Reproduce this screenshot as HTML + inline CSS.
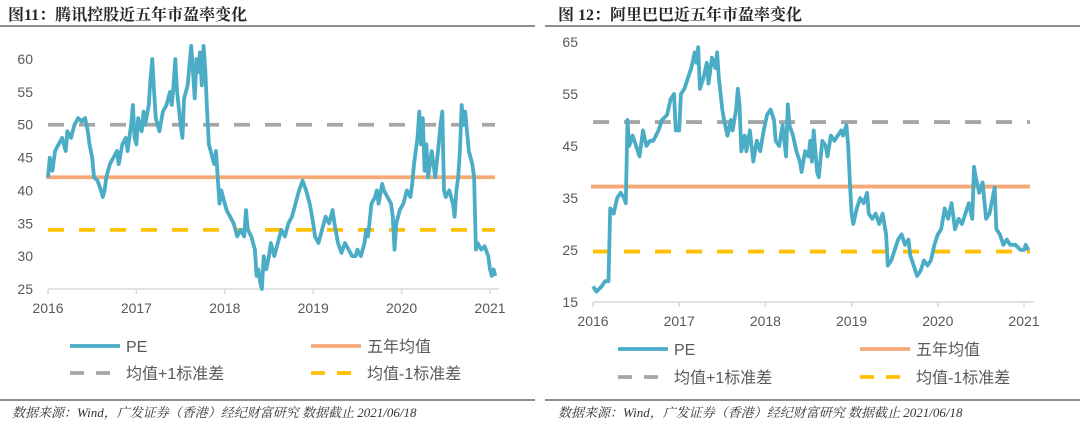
<!DOCTYPE html>
<html><head><meta charset="utf-8">
<style>
body{margin:0;width:1080px;height:425px;background:#fff;overflow:hidden;font-family:"Liberation Sans","Noto Sans CJK SC",sans-serif;}
svg{position:absolute;left:0;top:0}
</style></head>
<body>
<svg id="c" width="1080" height="425"></svg>
<script>
const yearTicks=[2016,2017,2018,2019,2020,2021];
const leftYTicks=[25,30,35,40,45,50,55,60];
const rightYTicks=[15,25,35,45,55,65];
const leftRefs=[42,50,34];
const rightRefs=[37.2,49.6,24.7];
const leftT=[2016.00,2016.02,2016.05,2016.08,2016.12,2016.16,2016.2,2016.22,2016.26,2016.3,2016.34,2016.38,2016.42,2016.45,2016.47,2016.5,2016.52,2016.56,2016.6,2016.62,2016.64,2016.66,2016.7,2016.74,2016.78,2016.8,2016.84,2016.88,2016.9,2016.94,2016.96,2016.98,2017.0,2017.02,2017.06,2017.08,2017.1,2017.14,2017.16,2017.18,2017.2,2017.22,2017.26,2017.3,2017.34,2017.38,2017.4,2017.42,2017.44,2017.46,2017.5,2017.52,2017.54,2017.58,2017.6,2017.62,2017.64,2017.66,2017.68,2017.7,2017.72,2017.74,2017.76,2017.78,2017.8,2017.82,2017.86,2017.88,2017.9,2017.92,2017.94,2017.96,2017.98,2018.02,2018.06,2018.1,2018.14,2018.18,2018.22,2018.24,2018.26,2018.3,2018.34,2018.36,2018.38,2018.4,2018.42,2018.44,2018.47,2018.5,2018.52,2018.56,2018.6,2018.64,2018.68,2018.72,2018.76,2018.8,2018.84,2018.88,2018.92,2018.96,2019.0,2019.02,2019.06,2019.1,2019.14,2019.18,2019.22,2019.24,2019.28,2019.32,2019.36,2019.4,2019.44,2019.48,2019.5,2019.54,2019.58,2019.6,2019.62,2019.66,2019.7,2019.72,2019.74,2019.78,2019.8,2019.84,2019.88,2019.9,2019.92,2019.94,2019.98,2020.02,2020.06,2020.1,2020.12,2020.14,2020.18,2020.2,2020.22,2020.24,2020.26,2020.28,2020.3,2020.34,2020.38,2020.42,2020.44,2020.46,2020.48,2020.5,2020.54,2020.58,2020.6,2020.62,2020.64,2020.66,2020.68,2020.7,2020.72,2020.74,2020.76,2020.8,2020.82,2020.84,2020.86,2020.9,2020.94,2020.98,2021.0,2021.02,2021.04,2021.06];
const leftPE=[42,45,43,46,47,48,46,49,48,50,51,50.5,51,49,47,45,42,41.5,40,39,40,42,44,45,46,44,47,48,46,50,53,48,47,51,49,52,50,53,57,60,55,51,49,52,53,55,53,56,60,55,50,48,54,56,59,62,58,54,60,58,61,56,62,58,52,47,45,44,46,42,38,40,39,37,36,35,33,34,33,37,34,33,31,27,28,26,25,30,28,30,32,30,32,34,33,35,36,38,40,41.5,40,38,35,33,32,34,36,35,37,35,32,30.5,32,31,30,30,31,30,32,34,33,38,39,40,38,41,40,39,38,36,31,35,37,38,40,39,41,44,48,52,47,51,43,47,42,46,42,47,50,52,40,39,40,38,36,40,42,46,53,50,52,49,46,44,42,31,32,31,31.5,30,28,27,28,27];
const rightT=[2016.0,2016.04,2016.1,2016.14,2016.18,2016.2,2016.24,2016.28,2016.32,2016.36,2016.38,2016.4,2016.42,2016.46,2016.5,2016.54,2016.58,2016.62,2016.66,2016.7,2016.76,2016.8,2016.86,2016.9,2016.94,2016.96,2017.0,2017.02,2017.06,2017.1,2017.14,2017.18,2017.2,2017.22,2017.24,2017.28,2017.32,2017.34,2017.38,2017.42,2017.44,2017.46,2017.5,2017.52,2017.56,2017.6,2017.62,2017.66,2017.68,2017.7,2017.72,2017.76,2017.78,2017.82,2017.86,2017.9,2017.94,2017.98,2018.02,2018.06,2018.1,2018.12,2018.16,2018.2,2018.24,2018.26,2018.28,2018.32,2018.36,2018.4,2018.42,2018.46,2018.5,2018.52,2018.54,2018.56,2018.6,2018.62,2018.66,2018.7,2018.72,2018.76,2018.8,2018.84,2018.88,2018.9,2018.94,2018.96,2018.98,2019.0,2019.02,2019.06,2019.1,2019.14,2019.18,2019.2,2019.24,2019.28,2019.32,2019.36,2019.4,2019.42,2019.46,2019.5,2019.54,2019.58,2019.62,2019.66,2019.68,2019.72,2019.76,2019.8,2019.84,2019.88,2019.92,2019.96,2020.0,2020.04,2020.08,2020.12,2020.16,2020.2,2020.24,2020.28,2020.32,2020.36,2020.4,2020.42,2020.44,2020.48,2020.52,2020.56,2020.6,2020.66,2020.68,2020.72,2020.76,2020.8,2020.84,2020.9,2020.96,2021.0,2021.02,2021.05];
const rightPE=[18,17,18,19,19,33,32,35,36,35,34,50,45,47,45,43,48,45,46,46,48,50,51,54,55,48,48,55,56,58,60,63,61,64,56,58,61,57,62,60,63,58,52,50,47,50,48,52,56,53,44,47,44,48,42,46,44,48,51,52,50,46,45,49,43,53,49,47,44,42,40,44,43,46,42,48,40,39,46,45,43,47,46,47,48,47,49,45,38,32,30,33,35,34,36,32,31,32,30,32,28,22,23,25,27,28,26,27,24,22,20,21,23,22,23,26,28,29,33,31,34,29,31,30,32,34,31,41,39,36,38,31,32,37,29,28,26,27,26,26,25,25,26,25];

const svg=document.getElementById('c');
const NS='http://www.w3.org/2000/svg';
function mk(tag,attrs,parent){const e=document.createElementNS(NS,tag);for(const k in attrs)e.setAttribute(k,attrs[k]);(parent||svg).appendChild(e);return e;}
function txt(x,y,s,size,fill,anchor,parent,extra){const e=mk('text',Object.assign({x:x,y:y,'font-size':size,fill:fill,'text-anchor':anchor||'start'},extra||{}),parent);e.textContent=s;return e;}

function drawChart(cfg){
  const g=mk('g',{});
  
  
  const xs=t=>cfg.x0+(t-2016)*(cfg.x1-cfg.x0)/5;
  const ys=v=>cfg.yb+(v-cfg.vmin)*(cfg.yt-cfg.yb)/(cfg.vmax-cfg.vmin);
  const ax=mk('line',{x1:xs(2016),x2:cfg.xend+4,y1:cfg.yb,y2:cfg.yb,stroke:'#d9d9d9','stroke-width':1.5},g);
  
  
  yearTicks.forEach(y=>{
    mk('line',{x1:xs(y),x2:xs(y),y1:cfg.yb,y2:cfg.yb+5,stroke:'#d9d9d9','stroke-width':1.5},g);
    const t=txt(xs(y),cfg.yb+24,String(y),14,'#595959','middle',g);
    
    
  });
  cfg.yticks.forEach(v=>{
    const t=txt(cfg.x0-15,ys(v)+5,String(v),14,'#595959','end',g);
    
    
  });
  const r=cfg.refs;
  const l1=mk('line',{x1:cfg.x0-2,x2:cfg.xend,y1:ys(r[0]),y2:ys(r[0]),stroke:'#f4a977','stroke-width':3.8},g);
  
  
  const l2=mk('line',{x1:cfg.x0,x2:cfg.xend,y1:ys(r[1]),y2:ys(r[1]),stroke:'#a6a6a6','stroke-width':3.8,'stroke-dasharray':'16,15'},g);
  
  
  const l3=mk('line',{x1:cfg.x0,x2:cfg.xend,y1:ys(r[2]),y2:ys(r[2]),stroke:'#ffc000','stroke-width':3.8,'stroke-dasharray':'16,15'},g);
  
  
  const d=cfg.t.map((t,i)=>(i?'L':'M')+xs(t).toFixed(1)+','+ys(cfg.v[i]).toFixed(1)).join('');
  const p=mk('path',{d:d,fill:'none',stroke:'#4bacc6','stroke-width':3.8,'stroke-linejoin':'round'},g);
  
  
  const L=cfg.leg;
  const items=[[L.x1,L.y1,'#4bacc6','','PE'],[L.x2,L.y1,'#f4a977','','五年均值'],[L.x1,L.y2,'#a6a6a6','14,12','均值+1标准差'],[L.x2,L.y2,'#ffc000','14,12','均值-1标准差']];
  items.forEach(it=>{
    const lg=mk('g',{},g);
    
    
    const a={x1:it[0],x2:it[0]+50,y1:it[1],y2:it[1],stroke:it[2],'stroke-width':3.8};
    if(it[3])a['stroke-dasharray']=it[3];
    mk('line',a,lg);
    txt(it[0]+56,it[1]+6,it[4],16,'#595959','start',lg);
  });
}
drawChart({name:'tencent-pe-chart',x0:48,x1:490,xend:495,yb:289,yt:59,vmin:25,vmax:60,yticks:leftYTicks,refs:leftRefs,t:leftT,v:leftPE,leg:{x1:70,x2:311,y1:346,y2:373}});
drawChart({name:'alibaba-pe-chart',x0:593,x1:1024,xend:1030,yb:302,yt:42,vmin:15,vmax:65,yticks:rightYTicks,refs:rightRefs,t:rightT,v:rightPE,leg:{x1:618,x2:860,y1:349,y2:377}});

[[8,'图11：腾讯控股近五年市盈率变化','left-title'],[558,'图 12：阿里巴巴近五年市盈率变化','right-title']].forEach(a=>{
  const t=txt(a[0],20,a[1],16,'#262626','start',svg,{'font-weight':'bold','font-family':'"Liberation Serif","Noto Serif CJK SC",serif'});
  
  
});
[[0,535],[545,1080]].forEach(a=>{
  const l1=mk('line',{x1:a[0],x2:a[1],y1:26,y2:26,stroke:'#222','stroke-width':1});
  
  
  const l2=mk('line',{x1:a[0],x2:a[1],y1:400,y2:400,stroke:'#222','stroke-width':1});
  
  
});
[[12,'left-source-note'],[558,'right-source-note']].forEach(a=>{
  const t=txt(a[0],417,'数据来源：Wind，广发证券（香港）经纪财富研究 数据截止 2021/06/18',13,'#333','start',svg,{'font-style':'italic','font-family':'"Liberation Serif","Noto Serif CJK SC",serif'});
  
  
});
</script>
</body></html>
